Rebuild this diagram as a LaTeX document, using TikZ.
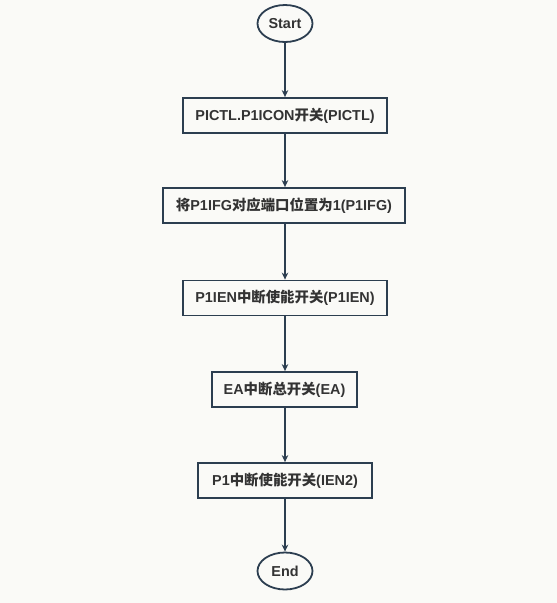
\documentclass[tikz,border=0pt]{standalone}
\usepackage{fontspec}
\setmainfont{Liberation Sans}
\newfontfamily\cjk{Noto Sans CJK SC}
\usetikzlibrary{shapes.geometric,arrows.meta}
\definecolor{bg}{HTML}{FAFAF7}
\definecolor{ln}{HTML}{2C3E50}
\definecolor{tx}{HTML}{333333}
\tikzset{
  x=1pt,y=-1pt,
  every node/.style={font=\bfseries\fontsize{14.4}{16}\selectfont, text=tx},
  term/.style={ellipse, draw=ln, line width=1.8pt, fill=bg, minimum width=55pt, minimum height=37pt, inner sep=0pt},
  proc/.style={rectangle, draw=ln, line width=1.8pt, fill=bg, minimum height=35pt, inner sep=0pt},
  conn/.style={draw=ln, line width=1.3pt, -{Stealth[length=7pt,width=6.5pt]}}
}
\newcommand{\zh}[1]{{\cjk\bfseries #1}}
\begin{document}
\begin{tikzpicture}
\fill[bg] (0,0) rectangle (557,603);
\useasboundingbox (0,0) rectangle (557,603);
\node[term] (start) at (285,23.5) {Start};
\node[proc, minimum width=204pt] (b1) at (285,115.5) {PICTL.P1ICON\zh{开关}(PICTL)};
\node[proc, minimum width=242pt] (b2) at (284,205.5) {\zh{将}P1IFG\zh{对应端口位置为}1(P1IFG)};
\node[proc, minimum width=204pt] (b3) at (285,298) {P1IEN\zh{中断使能开关}(P1IEN)};
\node[proc, minimum width=145pt] (b4) at (284.5,389.5) {EA\zh{中断总开关}(EA)};
\node[proc, minimum width=174pt] (b5) at (285,480.5) {P1\zh{中断使能开关}(IEN2)};
\node[term] (end) at (285,571) {End};
\draw[conn] (start) -- (b1);
\draw[conn] (b1) -- (b1|-b2.north);
\draw[conn] (b1|-b2.south) -- (b3);
\draw[conn] (b3) -- (b3|-b4.north);
\draw[conn] (b3|-b4.south) -- (b5);
\draw[conn] (b5) -- (end);
\end{tikzpicture}
\end{document}
